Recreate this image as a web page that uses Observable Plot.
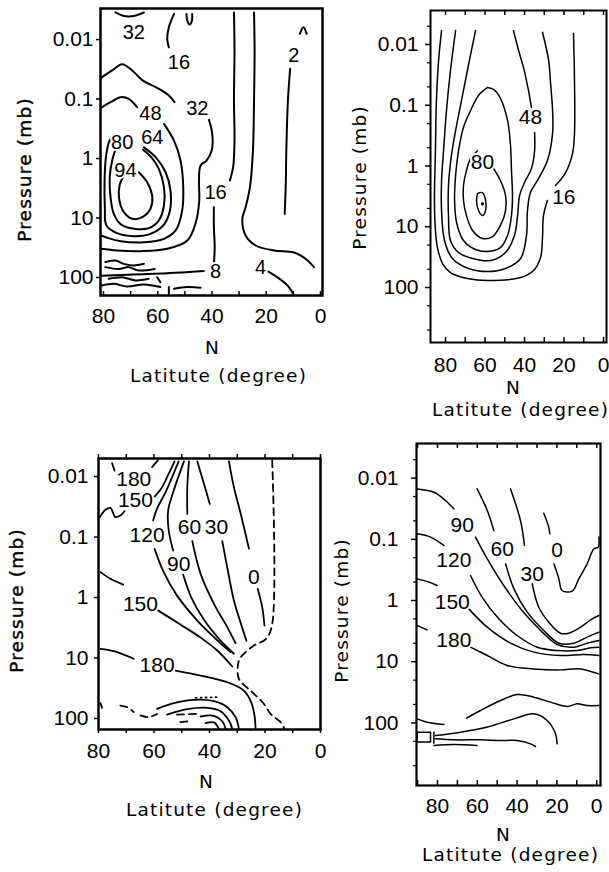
<!DOCTYPE html>
<html>
<head>
<meta charset="utf-8">
<script src="https://cdn.jsdelivr.net/npm/d3@7"></script>
<script src="https://cdn.jsdelivr.net/npm/@observablehq/plot@0.6"></script>
<style>
html,body{margin:0;padding:0;background:#fff;}
#chart{position:relative;width:609px;height:872px;overflow:hidden;background:#fff;}
#chart svg{position:absolute;}
</style>
</head>
<body>
<div id="chart"></div>
<script>
// ---------- axis tick values ----------
const latTicks = [80, 60, 40, 20, 0];
const latMinor = [90, 80, 70, 60, 50, 40, 30, 20, 10, 0];
const presTicks = [0.01, 0.1, 1, 10, 100];
const presMinor = [0.002, 0.005, 0.02, 0.05, 0.2, 0.5, 2, 5, 20, 50, 200, 500];
const yTitle = "Pressure (mb)";
const nTitle = "N";
const xTitle = "Latitute (degree)";

// ---------- panel 1 (top left): contour lines [lat, pressure] ----------
const p1Lines = [
  {v: 94, pts: [[67.0,1.70],[63.9,2.50],[62.0,4.47],[62.7,7.0],[65.7,9.7],[69.4,10.3],[72.7,7.7],[74.3,4.47],[74.0,2.74],[72.7,2.0]]},
  {v: 80, pts: [[75.6,0.71],[76.8,1.08],[77.7,2.06],[77.4,4.47],[76.2,8.5],[73.5,12.9],[68.8,15.2],[63.3,14.8],[59.6,11.0],[57.7,6.17],[57.7,3.03],[59.6,1.49],[62.4,0.95],[65.4,0.71]]},
  {v: 64, pts: [[65.1,0.65],[60.8,0.95],[57.1,1.70],[55.3,3.45],[55.5,7.5],[57.7,12.9],[62.7,18.5],[68.8,20.2],[75.0,18.0],[78.9,13.4],[79.5,6.6],[79.6,2.34],[79.1,0.95],[78.0,0.53],[76.6,0.41]]},
  {v: 48, pts: [[80.9,0.141],[77.4,0.113],[73.7,0.093],[70.7,0.099],[67.6,0.137]]},
  {v: 48, pts: [[57.7,0.261],[54.0,0.50],[51.6,1.08],[50.6,3.03],[51.0,7.5],[53.4,16.2],[57.7,22.4],[65.1,25.5],[73.7,24.5],[78.6,21.5],[80.9,19.7]]},
  {v: 32, pts: [[80.9,0.044],[76.8,0.033],[73.1,0.026],[69.4,0.033],[65.7,0.048],[60.2,0.065],[55.9,0.087],[53.8,0.113]]},
  {v: 32, pts: [[41.1,0.224],[39.9,0.385],[40.1,0.73],[42.0,1.08],[44.2,1.31],[44.8,2.34],[44.7,5.08],[46.1,12.5],[49.1,23.9],[56.5,33.0],[66.3,36.1],[75.0,35.2],[80.9,33.0]]},
  {v: 32, pts: [[75.6,0.0035],[72.5,0.0040],[68.8,0.0040],[65.1,0.0035]]},
  {v: 16, pts: [[54.0,0.0037],[55.9,0.0062],[56.5,0.0098],[55.9,0.0135]]},
  {v: 16, pts: [[49.4,0.0037],[49.1,0.0048],[48.3,0.0056],[47.4,0.0048],[47.3,0.0037]]},
  {v: 16, pts: [[31.9,0.0035],[31.7,0.0153],[31.9,0.106],[31.7,0.50],[32.2,1.40],[33.4,2.34]]},
  {v: 8, pts: [[80.9,94],[68.8,89],[56.5,85],[43.0,78]]},
  {v: 8, pts: [[39.3,58.9],[39.0,30.9],[39.3,14.3],[39.3,6.58]]},
  {v: 4, pts: [[24.5,0.0035],[24.3,0.0153],[24.5,0.106],[24.9,0.73],[26.0,3.03],[27.6,6.58],[28.8,10.3],[27.6,19.7],[23.9,29.0],[17.1,35.2],[9.8,38.0],[5.5,48.5],[2.4,67]]},
  {v: 2, pts: [[11.2,0.031],[12.0,0.106],[12.6,0.73],[12.8,2.67],[13.2,8.51]]},
  {v: 2, pts: [[7.6,0.0080],[6.3,0.0062],[5.1,0.0080]]},
  {v: 4, pts: [[19.6,78],[15.9,99],[12.2,136],[9.8,198]]},
  {v: 0, pts: [[79.3,55],[75.6,52],[72.5,59],[68.8,63],[65.1,59]]},
  {v: 0, pts: [[79.3,67],[74.4,72],[70.7,67],[67.4,76],[61.1,72]]},
  {v: 0, pts: [[78.1,105],[73.2,99],[68.2,112],[63.3,105]]},
  {v: 0, pts: [[80.5,136],[76.2,128],[71.3,142],[65.1,131],[59.0,145]]},
  {v: 0, pts: [[54.0,155],[49.1,145],[44.2,149]]},
  {v: 0, pts: [[60.2,99],[59.0,120]]},
  {v: 0, pts: [[55.9,145],[55.9,188]]}
];
const p1Labels = [["32",68.8,0.0075],["16",52.2,0.024],["2",9.8,0.0186],["48",62.7,0.177],["32",45.4,0.146],
  ["80",73.1,0.53],["64",62.0,0.44],["94",71.9,1.59],["16",38.7,3.68],["8",38.7,81],["4",22.1,67]];

// ---------- panel 2 (top right) ----------
const p2Lines = [
  {v: 96, pts: [[63.8,2.84],[61.3,2.74],[59.7,3.70],[59.7,5.40],[61.3,6.53],[63.3,5.40],[64.3,3.70],[63.8,2.84]]},
  {v: 80, pts: [[63.8,0.56],[67.3,0.75],[69.4,1.19],[70.9,2.09],[70.9,3.70],[69.4,6.53],[66.3,11.5],[61.3,15.6],[56.2,14.5],[52.2,9.5],[49.6,5.40],[49.6,3.06],[52.2,1.73],[55.7,1.10]]},
  {v: 64, pts: [[58.7,0.051],[63.3,0.069],[67.3,0.122],[70.9,0.23],[73.4,0.56],[74.9,1.43],[75.4,3.70],[74.4,8.5],[70.9,16.8],[64.8,23.7],[58.7,25.5],[52.2,22.0],[48.6,13.9],[46.6,6.53],[46.1,3.06],[46.6,1.19],[47.1,0.46],[48.6,0.178],[52.2,0.077],[55.7,0.055],[58.7,0.051]]},
  {v: 48, pts: [[45.6,0.0059],[43.0,0.0126],[40.5,0.024],[38.0,0.057],[36.5,0.109]]},
  {v: 48, pts: [[34.9,0.28],[34.9,0.56],[36.5,1.10],[40.0,1.87],[42.5,3.06],[43.5,6.53],[45.1,13.9],[49.6,26.5],[57.2,36.0],[66.3,33.3],[73.4,26.5],[77.5,16.8],[78.5,6.53],[78.5,2.09],[77.0,0.67],[74.4,0.215],[71.4,0.069],[68.4,0.022],[64.8,0.0059]]},
  {v: 32, pts: [[30.9,0.0063],[27.8,0.0183],[26.8,0.044],[25.8,0.122],[25.8,0.29],[28.4,0.81],[32.9,1.61],[37.0,2.74],[38.5,5.40],[39.0,13.9],[42.0,33.3],[49.6,48.6],[58.7,54.6],[68.4,48.6],[76.5,33.3],[80.5,16.8],[82.0,5.40],[82.0,1.73],[81.0,0.56],[79.5,0.122],[77.5,0.027],[74.9,0.0059]]},
  {v: 16, pts: [[15.2,0.0066],[14.7,0.039],[14.7,0.29],[15.7,0.62],[19.2,1.28],[24.3,2.09]]},
  {v: 16, pts: [[28.4,3.70],[30.4,6.53],[30.9,15.0],[31.9,32.1],[35.4,52.5],[42.0,68.4],[58.7,76.7],[68.9,71.1],[77.5,56.6],[81.5,40.3],[84.1,22.0],[85.1,11.5],[85.6,3.70],[85.1,0.56],[84.6,0.084],[83.5,0.0183],[82.0,0.0059]]}
];
const p2Labels = [["48",37.0,0.16],["80",61.3,0.87],["16",20.1,3.26]];
const p2Dots = [[61.3,4.2]];

// ---------- panel 3 (bottom left) ----------
const p3Lines = [
  {v: 180, pts: [[75.1,0.0060],[74.2,0.0080]]},
  {v: 180, pts: [[60.7,0.0070],[58.6,0.0054]]},
  {v: 150, pts: [[79.5,0.047],[77.5,0.0355],[75.7,0.033],[73.9,0.047],[72.1,0.044],[70.6,0.0375]]},
  {v: 150, pts: [[59.8,0.0214],[57.1,0.0150],[54.7,0.0090],[52.6,0.0056]]},
  {v: 120, pts: [[60.3,0.053],[58.9,0.034],[55.9,0.0184],[53.5,0.0103],[51.1,0.0056]]},
  {v: 120, pts: [[59.8,0.157],[56.5,0.381],[51.7,0.93],[44.4,2.40],[37.8,4.8],[32.4,8.0]]},
  {v: 90, pts: [[53.1,0.167],[54.7,0.078],[54.9,0.0365],[52.9,0.0170],[49.2,0.0056]]},
  {v: 90, pts: [[49.5,0.417],[46.6,0.99],[41.8,2.40],[36.0,5.14],[31.2,8.5]]},
  {v: 60, pts: [[47.4,0.0056],[48.0,0.0150],[48.0,0.0414]]},
  {v: 60, pts: [[46.2,0.117],[43.2,0.406],[38.4,1.27],[33.6,3.09],[30.6,5.7]]},
  {v: 30, pts: [[44.4,0.0056],[42.0,0.0132],[39.9,0.0283]]},
  {v: 30, pts: [[35.4,0.117],[33.4,0.358],[31.2,1.12],[28.6,2.78],[26.7,5.2]]},
  {v: 0, pts: [[33.0,0.0056],[31.2,0.0150],[28.6,0.044],[25.8,0.155]]},
  {v: 0, pts: [[22.6,0.72],[21.0,1.44],[20.2,2.90]]},
  {v: 150, pts: [[79.3,0.38],[75.7,0.49],[71.1,0.61]]},
  {v: 150, pts: [[58.9,1.60],[50.5,2.79],[43.2,4.6],[37.2,7.52],[31.8,13.8]]},
  {v: 180, pts: [[79.3,7.05],[74.5,7.71],[67.3,10.3]]},
  {v: 180, pts: [[52.3,16.1],[43.2,19.5],[33.6,25.1],[27.6,34.5],[25.0,53.7],[23.8,89],[23.4,148]]},
  {v: 0, s: "dash", pts: [[17.4,0.0054],[17.4,2.72],[19.6,4.82],[24.0,6.21],[27.6,8.53],[29.4,11.0],[29.4,22.1],[24.6,36.7],[20.4,57.2],[18.0,83.8],[14.4,115],[13.0,148]]},
  {v: 210, pts: [[58.9,69.2],[52.9,55.8],[45.6,49.1],[38.4,51.7],[33.6,65.0],[30.6,95.1],[29.4,148]]},
  {v: 240, pts: [[55.3,86],[48.0,70],[40.8,66.6],[36.0,75.6],[33.0,108],[31.8,148]]},
  {v: 270, pts: [[43.2,92.7],[38.4,90.3],[35.4,111],[34.2,148]]},
  {v: 300, pts: [[41.4,119],[38.4,116],[36.6,148]]},
  {v: 0, s: "dot", pts: [[45.0,45.5],[37.2,44.4]]},
  {v: 0, s: "dash", pts: [[72.1,61],[69.1,66.6],[67.3,78.6]]},
  {v: 0, s: "dash", pts: [[64.9,89],[61.9,95],[58.9,84]]},
  {v: 0, s: "dash", pts: [[79.3,55.8],[78.7,66.6]]},
  {v: 0, s: "dash", pts: [[51.7,86],[44.4,84]]},
  {v: 0, s: "dash", pts: [[50.5,115],[47.4,111]]}
];
const p3Labels = [["180",67.3,0.0109],["150",66.7,0.0249],["120",62.5,0.094],["60",47.2,0.069],["30",37.5,0.069],
  ["90",51.1,0.278],["0",24.0,0.461],["150",64.9,1.27],["180",58.9,13.3]];

// ---------- panel 4 (bottom right) ----------
const p4Lines = [
  {v: 0, pts: [[26.6,0.0374],[24.1,0.0633],[23.6,0.0814]]},
  {v: 0, pts: [[21.5,0.252],[19.0,0.443],[17.4,0.686],[12.3,0.703],[9.0,0.443],[4.8,0.252],[1.4,0.143],[-0.7,0.135],[-1.1,0.092]]},
  {v: 30, pts: [[43.3,0.0150],[38.3,0.0493],[36.3,0.126]]},
  {v: 30, pts: [[32.4,0.534],[29.1,1.29],[24.1,2.26],[18.2,3.42],[14.0,3.42],[8.1,2.73],[3.1,2.07],[-1.1,1.76]]},
  {v: 60, pts: [[60.1,0.0150],[55.0,0.0338],[51.7,0.0718]]},
  {v: 60, pts: [[45.8,0.252],[41.6,0.645],[34.9,1.55],[26.6,3.09],[19.0,4.98],[11.5,4.98],[4.8,3.97],[-1.1,3.29]]},
  {v: 90, pts: [[90.2,0.0150],[81.8,0.0170],[76.0,0.0232],[71.8,0.0318]]},
  {v: 90, pts: [[60.9,0.092],[55.0,0.209],[46.7,0.569],[37.5,1.46],[28.2,3.09],[19.9,5.24],[11.5,5.79],[4.8,4.98],[-1.1,4.50]]},
  {v: 120, pts: [[90.2,0.0814],[83.5,0.092],[76.8,0.126]]},
  {v: 120, pts: [[63.4,0.391],[57.6,0.88],[49.2,1.99],[40.0,3.73],[29.9,5.79],[19.9,6.56],[9.8,6.56],[3.1,5.93],[-1.1,5.79]]},
  {v: 150, pts: [[90.2,0.443],[84.4,0.50],[80.2,0.569]]},
  {v: 150, pts: [[64.3,1.37],[55.0,2.73],[43.3,4.98],[31.6,6.98],[18.2,7.92],[6.5,7.62],[-1.1,7.92]]},
  {v: 180, pts: [[90.2,2.56],[85.2,3.02]]},
  {v: 180, pts: [[63.4,5.79],[55.0,7.92],[45.0,11.5],[31.6,13.1],[18.2,13.6],[8.1,13.1],[-1.1,15.8]]},
  {v: 210, pts: [[65.4,83.7],[58.4,62.7],[48.3,43.1],[40.0,34.4],[31.6,38.0],[23.2,45.8],[14.8,54.0],[9.8,48.8],[4.8,52.0],[-1.1,52.0]]},
  {v: 210, pts: [[90.2,85.9],[85.2,97.3],[76.8,106]]},
  {v: 240, pts: [[81.0,161],[68.4,142],[55.0,117],[41.6,85.9],[31.6,71.1],[24.9,91.4],[20.7,151],[19.9,220]]},
  {v: 270, pts: [[81.0,182],[71.8,189],[58.4,189],[48.3,194],[40.0,194],[33.3,220],[30.8,243]]},
  {v: 300, pts: [[81.8,234],[71.8,225],[60.1,234]]},
  {v: 0, s: "box", pts: [[90.2,142],[83.5,142],[83.5,206],[90.2,206],[90.2,142]]},
  {v: 0, s: "box", pts: [[81.8,142],[81.8,215]]}
];
const p4Labels = [["90",67.6,0.0595],["60",47.5,0.143],["0",19.9,0.152],["120",71.8,0.222],["30",32.4,0.376],
  ["150",72.6,1.06],["180",71.8,4.50]];

// ---------- drawing ----------
const TITLE_FONT = "DejaVu Sans, Verdana, sans-serif";
const TICK_FONT = "Liberation Sans, Arial, sans-serif";

function rows(lines) {
  return lines.flatMap((l, i) => l.pts.map(([lat, p]) => ({lat, p, id: i, s: l.s || "solid"})));
}

function drawPanel(c) {
  const fh = c.height - c.mt - c.mb, fw = c.width - c.ml - c.mr;
  const within = (v, d) => v >= Math.min(...d) && v <= Math.max(...d);
  const xs = v => within(v, c.xd), ys = v => within(v, c.yd);
  const data = rows(c.lines);
  const dashes = {solid: undefined, dash: "7,5", dot: "1,4", box: undefined};
  const marks = [];
  for (const s of Object.keys(dashes)) {
    const sub = data.filter(d => d.s === s);
    if (!sub.length) continue;
    marks.push(Plot.line(sub, {x: "lat", y: "p", z: "id", curve: s === "box" ? "linear" : "catmull-rom",
      stroke: "black", strokeWidth: c.sw, strokeDasharray: dashes[s], strokeLinecap: "round", strokeLinejoin: "round"}));
  }
  if (c.dots) marks.push(Plot.dot(c.dots, {x: d => d[0], y: d => d[1], r: 1.6, fill: "black", stroke: "none"}));
  marks.push(Plot.text(c.labels, {x: d => d[1], y: d => d[2], text: d => d[0], fontSize: c.labelSize,
    fontFamily: TICK_FONT, fill: "black", stroke: "white", strokeWidth: 4, paintOrder: "stroke"}));
  const L = c.tickLen;
  marks.push(Plot.tickY(presTicks.filter(ys), {y: d => d, insetLeft: -L, insetRight: fw, stroke: "black", strokeWidth: 1.5}));
  if (c.minorY) marks.push(Plot.tickY(presMinor.filter(ys), {y: d => d, insetLeft: -3, insetRight: fw, stroke: "black", strokeWidth: 1.2}));
  const xt = latMinor.filter(xs);
  if (c.topTicks === "in") marks.push(Plot.tickX(xt, {x: d => d, insetBottom: fh - L, stroke: "black", strokeWidth: 1.5}));
  if (c.topTicks === "out") marks.push(Plot.tickX(xt, {x: d => d, insetTop: -L, insetBottom: fh, stroke: "black", strokeWidth: 1.5}));
  if (c.botTicks === "in") marks.push(Plot.tickX(xt, {x: d => d, insetTop: fh - L, stroke: "black", strokeWidth: 1.5}));
  if (c.botTicks === "out") marks.push(Plot.tickX(xt, {x: d => d, insetTop: fh, insetBottom: -L, stroke: "black", strokeWidth: 1.5}));
  marks.push(Plot.frame({stroke: "black", strokeWidth: c.frameW}));
  const heavy = c.heavy ? {stroke: "black", strokeWidth: 0.4} : {};
  marks.push(Plot.axisY({ticks: presTicks.filter(ys), tickFormat: d => String(d), tickSize: 0, tickPadding: c.yPad, label: null, fontSize: 21, fontFamily: TICK_FONT, ...heavy}));
  marks.push(Plot.axisX({ticks: latTicks.filter(xs), tickFormat: d => String(d), tickSize: 0, tickPadding: c.xPad, label: null, fontSize: 21, fontFamily: TICK_FONT}));
  const t = c.titles;
  const tOpts = {text: d => d, fontFamily: TITLE_FONT, fontSize: 18.5, fill: "black", textAnchor: "middle", lineAnchor: "middle"};
  marks.push(Plot.text([yTitle], {...tOpts, ...heavy, frameAnchor: "left", dx: t.yx, dy: t.yy, rotate: -90}));
  marks.push(Plot.text([nTitle], {...tOpts, frameAnchor: "bottom", dx: t.nx, dy: t.ny}));
  marks.push(Plot.text([xTitle], {...tOpts, frameAnchor: "bottom", dx: t.lx, dy: t.ly}));

  const svg = Plot.plot({
    width: c.width, height: c.height,
    marginTop: c.mt, marginRight: c.mr, marginBottom: c.mb, marginLeft: c.ml,
    x: {domain: c.xd, label: null},
    y: {type: "log", domain: c.yd, label: null},
    style: {fontFamily: TICK_FONT, fontSize: "21px", color: "black", background: "white", overflow: "visible"},
    marks
  });
  svg.style.left = c.left + "px";
  svg.style.top = c.top + "px";
  svg.querySelectorAll("text").forEach(el => {
    if ([yTitle, nTitle, xTitle].includes(el.textContent)) el.style.letterSpacing = "1.2px";
  });
  document.getElementById("chart").appendChild(svg);
}

drawPanel({left: 0, top: 0, width: 330, height: 400, mt: 8, mr: 8, mb: 105, ml: 100,
  xd: [81.1, -0.74], yd: [201, 0.0030], lines: p1Lines, labels: p1Labels, labelSize: 20, heavy: true,
  sw: 2, frameW: 2.5, tickLen: 4, minorY: false, topTicks: null, botTicks: "in", yPad: 7, xPad: 13,
  titles: {yx: -75, yy: 17.5, nx: 1, ny: 53, lx: 7, ly: 81}});

drawPanel({left: 330, top: 0, width: 279, height: 420, mt: 10, mr: 3, mb: 78, ml: 100,
  xd: [87.6, -1.5], yd: [803, 0.00276], lines: p2Lines, labels: p2Labels, dots: p2Dots, labelSize: 21,
  sw: 1.5, frameW: 2, tickLen: 5, minorY: true, topTicks: "in", botTicks: "in", yPad: 12, xPad: 15,
  titles: {yx: -70, yy: 1, nx: -5, ny: 46, lx: 2, ly: 68}});

drawPanel({left: 0, top: 420, width: 330, height: 452, mt: 38, mr: 10, mb: 143, ml: 98,
  xd: [80, 0], yd: [152, 0.00503], lines: p3Lines, labels: p3Labels, labelSize: 21, heavy: true,
  sw: 1.8, frameW: 2.5, tickLen: 4, minorY: false, topTicks: "out", botTicks: "out", yPad: 10, xPad: 14,
  titles: {yx: -81, yy: 6.5, nx: -3, ny: 53, lx: 5, ly: 81}});

drawPanel({left: 330, top: 420, width: 279, height: 452, mt: 23, mr: 9, mb: 87, ml: 86,
  xd: [90.55, -1.9], yd: [1054, 0.00272], lines: p4Lines, labels: p4Labels, labelSize: 21,
  sw: 1.5, frameW: 2.2, tickLen: 5, minorY: true, topTicks: "in", botTicks: "in", yPad: 18, xPad: 13,
  titles: {yx: -74, yy: -4, nx: -5, ny: 50, lx: 2, ly: 70}});
</script>
</body>
</html>
